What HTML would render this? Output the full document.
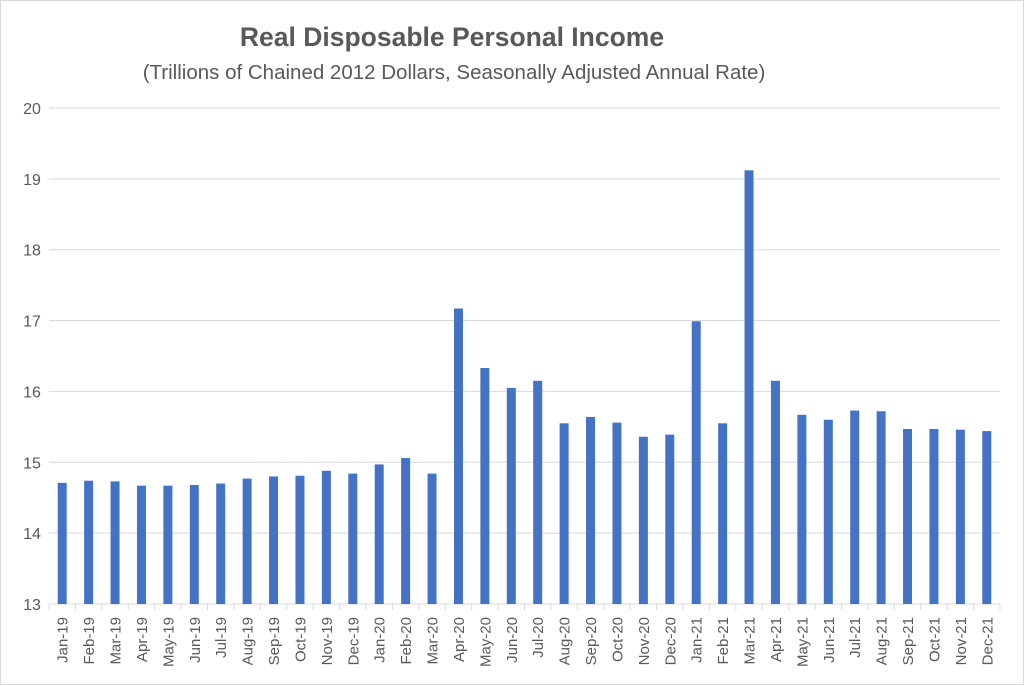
<!DOCTYPE html>
<html><head><meta charset="utf-8"><style>
body{margin:0;background:#fff}
svg{display:block;font-family:"Liberation Sans",sans-serif}
</style></head><body>
<svg width="1024" height="686" xmlns="http://www.w3.org/2000/svg">
<rect x="0.5" y="0.5" width="1023" height="684" fill="#fff" stroke="#d9d9d9"/>
<text x="452" y="46" text-anchor="middle" font-size="26.5" font-weight="bold" fill="#595959">Real Disposable Personal Income</text>
<text x="454" y="79" text-anchor="middle" font-size="20.5" fill="#595959">(Trillions of Chained 2012 Dollars, Seasonally Adjusted Annual Rate)</text>
<g id="g"></g>
</svg>
<script>
const vals=[14.71,14.74,14.73,14.67,14.67,14.68,14.70,14.77,14.80,14.81,14.88,14.84,14.97,15.06,14.84,17.17,16.33,16.05,16.15,15.55,15.64,15.56,15.36,15.39,16.99,15.55,19.12,16.15,15.67,15.60,15.73,15.72,15.47,15.47,15.46,15.44];
const m=["Jan","Feb","Mar","Apr","May","Jun","Jul","Aug","Sep","Oct","Nov","Dec"];
const y=v=>604-(v-13)*70.86;
let s="";
for(let v=13;v<=20;v++){s+=`<line x1="49" x2="1000" y1="${y(v)}" y2="${y(v)}" stroke="#d9d9d9"/><text x="32" y="${y(v)+6}" text-anchor="middle" font-size="16" fill="#595959">${v}</text>`;}
const sp=(1000-49)/36;
for(let i=0;i<=36;i++){const x=49+i*sp;s+=`<line x1="${x}" x2="${x}" y1="604" y2="610" stroke="#d9d9d9"/>`;}
vals.forEach((v,i)=>{const cx=49+(i+0.5)*sp;s+=`<rect x="${cx-4.5}" y="${y(v)}" width="9" height="${604-y(v)}" fill="#4472c4"/>`;
const lab=m[i%12]+"-"+(19+Math.floor(i/12));
s+=`<text transform="translate(${cx+5.5},617) rotate(-90)" text-anchor="end" font-size="15" fill="#595959">${lab}</text>`;});
document.getElementById("g").innerHTML=s;
</script>
</body></html>
